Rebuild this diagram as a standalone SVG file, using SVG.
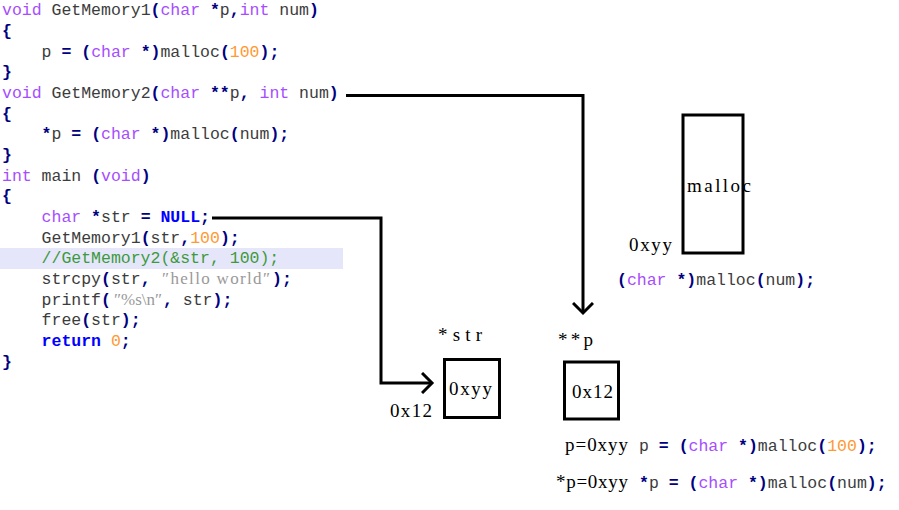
<svg xmlns="http://www.w3.org/2000/svg" width="899" height="510" viewBox="0 0 899 510">
<style>
.c{font-family:"Liberation Mono","DejaVu Sans Mono",monospace;font-size:16.5px;fill:#3c3c3c}
.k{fill:#a64dff}
.p{fill:#000080;font-weight:bold}
.n{fill:#ff9933}
.b{fill:#0000ff;font-weight:bold}
.g{fill:#3c9a3c}
.s{font-family:"Liberation Serif","DejaVu Serif",serif;font-size:17px;fill:#999999}
.l{font-family:"Liberation Serif","DejaVu Serif",serif;font-size:19px;fill:#000}
.box{fill:#fff;stroke:#000;stroke-width:3}
.con{fill:none;stroke:#000;stroke-width:3}
</style>
<defs>
<marker id="arr" markerUnits="userSpaceOnUse" viewBox="0 0 14 22" refX="11" refY="11" markerWidth="14" markerHeight="22" orient="auto">
<path d="M1,1 L11,11 L1,21" fill="none" stroke="#000" stroke-width="3"/>
</marker>
</defs>
<rect width="899" height="510" fill="#fff"/>
<rect x="0" y="248" width="343" height="21" fill="#e6e6fa"/>
<g id="code" class="c">
<text x="2" y="15"><tspan class="k">void</tspan> GetMemory1<tspan class="p">(</tspan><tspan class="k">char</tspan> <tspan class="p">*</tspan>p<tspan class="p">,</tspan><tspan class="k">int</tspan> num<tspan class="p">)</tspan></text>
<text x="2" y="36"><tspan class="p">{</tspan></text>
<text x="41.6" y="57">p <tspan class="p">=</tspan> <tspan class="p">(</tspan><tspan class="k">char</tspan> <tspan class="p">*)</tspan>malloc<tspan class="p">(</tspan><tspan class="n">100</tspan><tspan class="p">);</tspan></text>
<text x="2" y="77"><tspan class="p">}</tspan></text>
<text x="2" y="98"><tspan class="k">void</tspan> GetMemory2<tspan class="p">(</tspan><tspan class="k">char</tspan> <tspan class="p">**</tspan>p<tspan class="p">,</tspan> <tspan class="k">int</tspan> num<tspan class="p">)</tspan></text>
<text x="2" y="119"><tspan class="p">{</tspan></text>
<text x="41.6" y="139"><tspan class="p">*</tspan>p <tspan class="p">=</tspan> <tspan class="p">(</tspan><tspan class="k">char</tspan> <tspan class="p">*)</tspan>malloc<tspan class="p">(</tspan>num<tspan class="p">);</tspan></text>
<text x="2" y="160"><tspan class="p">}</tspan></text>
<text x="2" y="181"><tspan class="k">int</tspan> main <tspan class="p">(</tspan><tspan class="k">void</tspan><tspan class="p">)</tspan></text>
<text x="2" y="201"><tspan class="p">{</tspan></text>
<text x="41.6" y="222"><tspan class="k">char</tspan> <tspan class="p">*</tspan>str <tspan class="p">=</tspan> <tspan class="b">NULL</tspan><tspan class="p">;</tspan></text>
<text x="41.6" y="243">GetMemory1<tspan class="p">(</tspan>str<tspan class="p">,</tspan><tspan class="n">100</tspan><tspan class="p">);</tspan></text>
<text x="41.6" y="263" class="g">//GetMemory2(&amp;str, 100);</text>
<text x="41.6" y="284">strcpy<tspan class="p">(</tspan>str<tspan class="p">,</tspan></text>
<text x="162" y="284" class="s" textLength="108" lengthAdjust="spacing">″hello world″</text>
<text x="272" y="284" class="p">);</text>
<text x="41.6" y="305">printf<tspan class="p">(</tspan></text>
<text x="114" y="305" class="s" textLength="48" lengthAdjust="spacing">″%s\n″</text>
<text x="163" y="305"><tspan class="p">,</tspan> str<tspan class="p">);</tspan></text>
<text x="41.6" y="325">free<tspan class="p">(</tspan>str<tspan class="p">);</tspan></text>
<text x="41.6" y="346"><tspan class="b">return</tspan> <tspan class="n">0</tspan><tspan class="p">;</tspan></text>
<text x="2" y="367"><tspan class="p">}</tspan></text>
</g>
<g id="connectors">
<path class="con" d="M346,95.5 H583 V313" marker-end="url(#arr)"/>
<path class="con" d="M212,218 H381 V383 H432" marker-end="url(#arr)"/>
</g>
<g id="malloc-block">
<rect class="box" x="683" y="115" width="60" height="138"/>
<text class="l" x="687" y="192" textLength="64" lengthAdjust="spacing">malloc</text>
<text class="l" x="629" y="251" textLength="43" lengthAdjust="spacing">0xyy</text>
<text class="c" x="617" y="285"><tspan class="p">(</tspan><tspan class="k">char</tspan> <tspan class="p">*)</tspan>malloc<tspan class="p">(</tspan>num<tspan class="p">);</tspan></text>
</g>
<g id="str-box">
<text class="l" x="438" y="341" textLength="44" lengthAdjust="spacing">*str</text>
<rect class="box" x="444.5" y="359.5" width="55" height="58"/>
<text class="l" x="449" y="395" textLength="43" lengthAdjust="spacing">0xyy</text>
<text class="l" x="390" y="417" textLength="42" lengthAdjust="spacing">0x12</text>
</g>
<g id="p-box">
<text class="l" x="558" y="346" textLength="35" lengthAdjust="spacing">**p</text>
<rect class="box" x="564.5" y="362" width="54" height="57"/>
<text class="l" x="572" y="398" textLength="41" lengthAdjust="spacing">0x12</text>
</g>
<g id="notes">
<text class="l" x="565" y="451" textLength="63" lengthAdjust="spacing">p=0xyy</text>
<text class="c" x="639" y="451">p <tspan class="p">=</tspan> <tspan class="p">(</tspan><tspan class="k">char</tspan> <tspan class="p">*)</tspan>malloc<tspan class="p">(</tspan><tspan class="n">100</tspan><tspan class="p">);</tspan></text>
<text class="l" x="556" y="488" textLength="72" lengthAdjust="spacing">*p=0xyy</text>
<text class="c" x="639" y="488"><tspan class="p">*</tspan>p <tspan class="p">=</tspan> <tspan class="p">(</tspan><tspan class="k">char</tspan> <tspan class="p">*)</tspan>malloc<tspan class="p">(</tspan>num<tspan class="p">);</tspan></text>
</g>
</svg>
